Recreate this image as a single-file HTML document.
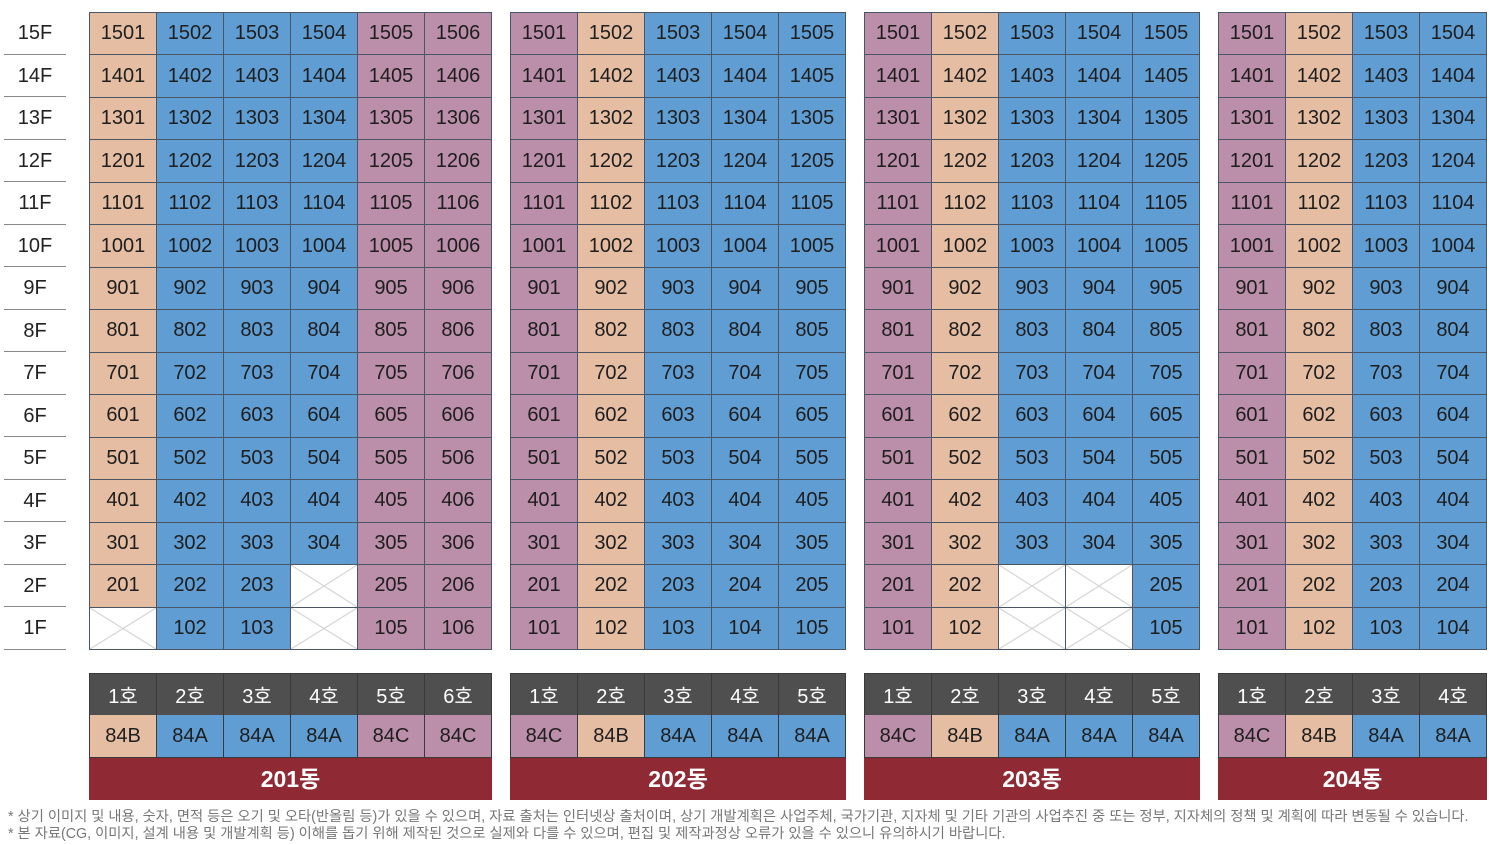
<!DOCTYPE html><html><head><meta charset="utf-8"><style>
body{margin:0;width:1489px;height:845px;background:#fff;position:relative;overflow:hidden;font-family:"Liberation Sans","Noto Sans CJK KR",sans-serif;}
.fl{position:absolute;left:4px;width:62px;height:42.5px;line-height:42px;text-align:center;font-size:20px;color:#222;border-bottom:1px solid #888;box-sizing:border-box}
.g{position:absolute;top:12px;display:grid;grid-auto-rows:1fr;background:#4a5565;gap:1px;border:1px solid #4a5565;box-sizing:border-box;height:638px}
.g i,.h i,.t i{font-style:normal;display:flex;align-items:center;justify-content:center;font-size:20px;color:#1e1e1e}
.p{background:#e5bda2}.b{background:#5f9dd3}.u{background:#bb8ea9}
.g i.x{background-color:#fff;background-image:linear-gradient(to top right,transparent calc(50% - 1px),#ccc 50%,transparent calc(50% + 1px)),linear-gradient(to bottom right,transparent calc(50% - 1px),#ccc 50%,transparent calc(50% + 1px))}
.h,.t{position:absolute;display:grid;gap:1px;background:#3a3a3a;border:1px solid #3a3a3a;box-sizing:border-box;height:43px}
.h{top:673px}.h i{background:#4f4f4f;color:#fff}
.t{top:715px;border-top:none;height:43px}
.n{position:absolute;top:758px;height:42px;background:#8f2a35;color:#fff;font-weight:bold;font-size:23px;text-align:center;line-height:42px}
.fn{position:absolute;left:8px;font-size:14.3px;color:#777;white-space:nowrap}
</style></head><body>
<div class="fl" style="top:12px">15F</div><div class="fl" style="top:54.5px">14F</div><div class="fl" style="top:97px">13F</div><div class="fl" style="top:139.5px">12F</div><div class="fl" style="top:182px">11F</div><div class="fl" style="top:224.5px">10F</div><div class="fl" style="top:267px">9F</div><div class="fl" style="top:309.5px">8F</div><div class="fl" style="top:352px">7F</div><div class="fl" style="top:394.5px">6F</div><div class="fl" style="top:437px">5F</div><div class="fl" style="top:479.5px">4F</div><div class="fl" style="top:522px">3F</div><div class="fl" style="top:564.5px">2F</div><div class="fl" style="top:607px">1F</div>

<div class="g" style="left:89px;width:403px;grid-template-columns:repeat(6,1fr)">
<i class=p>1501</i><i class=b>1502</i><i class=b>1503</i><i class=b>1504</i><i class=u>1505</i><i class=u>1506</i>
<i class=p>1401</i><i class=b>1402</i><i class=b>1403</i><i class=b>1404</i><i class=u>1405</i><i class=u>1406</i>
<i class=p>1301</i><i class=b>1302</i><i class=b>1303</i><i class=b>1304</i><i class=u>1305</i><i class=u>1306</i>
<i class=p>1201</i><i class=b>1202</i><i class=b>1203</i><i class=b>1204</i><i class=u>1205</i><i class=u>1206</i>
<i class=p>1101</i><i class=b>1102</i><i class=b>1103</i><i class=b>1104</i><i class=u>1105</i><i class=u>1106</i>
<i class=p>1001</i><i class=b>1002</i><i class=b>1003</i><i class=b>1004</i><i class=u>1005</i><i class=u>1006</i>
<i class=p>901</i><i class=b>902</i><i class=b>903</i><i class=b>904</i><i class=u>905</i><i class=u>906</i>
<i class=p>801</i><i class=b>802</i><i class=b>803</i><i class=b>804</i><i class=u>805</i><i class=u>806</i>
<i class=p>701</i><i class=b>702</i><i class=b>703</i><i class=b>704</i><i class=u>705</i><i class=u>706</i>
<i class=p>601</i><i class=b>602</i><i class=b>603</i><i class=b>604</i><i class=u>605</i><i class=u>606</i>
<i class=p>501</i><i class=b>502</i><i class=b>503</i><i class=b>504</i><i class=u>505</i><i class=u>506</i>
<i class=p>401</i><i class=b>402</i><i class=b>403</i><i class=b>404</i><i class=u>405</i><i class=u>406</i>
<i class=p>301</i><i class=b>302</i><i class=b>303</i><i class=b>304</i><i class=u>305</i><i class=u>306</i>
<i class=p>201</i><i class=b>202</i><i class=b>203</i><i class=x></i><i class=u>205</i><i class=u>206</i>
<i class=x></i><i class=b>102</i><i class=b>103</i><i class=x></i><i class=u>105</i><i class=u>106</i>
</div>

<div class="g" style="left:510px;width:336px;grid-template-columns:repeat(5,1fr)">
<i class=u>1501</i><i class=p>1502</i><i class=b>1503</i><i class=b>1504</i><i class=b>1505</i>
<i class=u>1401</i><i class=p>1402</i><i class=b>1403</i><i class=b>1404</i><i class=b>1405</i>
<i class=u>1301</i><i class=p>1302</i><i class=b>1303</i><i class=b>1304</i><i class=b>1305</i>
<i class=u>1201</i><i class=p>1202</i><i class=b>1203</i><i class=b>1204</i><i class=b>1205</i>
<i class=u>1101</i><i class=p>1102</i><i class=b>1103</i><i class=b>1104</i><i class=b>1105</i>
<i class=u>1001</i><i class=p>1002</i><i class=b>1003</i><i class=b>1004</i><i class=b>1005</i>
<i class=u>901</i><i class=p>902</i><i class=b>903</i><i class=b>904</i><i class=b>905</i>
<i class=u>801</i><i class=p>802</i><i class=b>803</i><i class=b>804</i><i class=b>805</i>
<i class=u>701</i><i class=p>702</i><i class=b>703</i><i class=b>704</i><i class=b>705</i>
<i class=u>601</i><i class=p>602</i><i class=b>603</i><i class=b>604</i><i class=b>605</i>
<i class=u>501</i><i class=p>502</i><i class=b>503</i><i class=b>504</i><i class=b>505</i>
<i class=u>401</i><i class=p>402</i><i class=b>403</i><i class=b>404</i><i class=b>405</i>
<i class=u>301</i><i class=p>302</i><i class=b>303</i><i class=b>304</i><i class=b>305</i>
<i class=u>201</i><i class=p>202</i><i class=b>203</i><i class=b>204</i><i class=b>205</i>
<i class=u>101</i><i class=p>102</i><i class=b>103</i><i class=b>104</i><i class=b>105</i>
</div>

<div class="g" style="left:864px;width:336px;grid-template-columns:repeat(5,1fr)">
<i class=u>1501</i><i class=p>1502</i><i class=b>1503</i><i class=b>1504</i><i class=b>1505</i>
<i class=u>1401</i><i class=p>1402</i><i class=b>1403</i><i class=b>1404</i><i class=b>1405</i>
<i class=u>1301</i><i class=p>1302</i><i class=b>1303</i><i class=b>1304</i><i class=b>1305</i>
<i class=u>1201</i><i class=p>1202</i><i class=b>1203</i><i class=b>1204</i><i class=b>1205</i>
<i class=u>1101</i><i class=p>1102</i><i class=b>1103</i><i class=b>1104</i><i class=b>1105</i>
<i class=u>1001</i><i class=p>1002</i><i class=b>1003</i><i class=b>1004</i><i class=b>1005</i>
<i class=u>901</i><i class=p>902</i><i class=b>903</i><i class=b>904</i><i class=b>905</i>
<i class=u>801</i><i class=p>802</i><i class=b>803</i><i class=b>804</i><i class=b>805</i>
<i class=u>701</i><i class=p>702</i><i class=b>703</i><i class=b>704</i><i class=b>705</i>
<i class=u>601</i><i class=p>602</i><i class=b>603</i><i class=b>604</i><i class=b>605</i>
<i class=u>501</i><i class=p>502</i><i class=b>503</i><i class=b>504</i><i class=b>505</i>
<i class=u>401</i><i class=p>402</i><i class=b>403</i><i class=b>404</i><i class=b>405</i>
<i class=u>301</i><i class=p>302</i><i class=b>303</i><i class=b>304</i><i class=b>305</i>
<i class=u>201</i><i class=p>202</i><i class=x></i><i class=x></i><i class=b>205</i>
<i class=u>101</i><i class=p>102</i><i class=x></i><i class=x></i><i class=b>105</i>
</div>

<div class="g" style="left:1218px;width:269px;grid-template-columns:repeat(4,1fr)">
<i class=u>1501</i><i class=p>1502</i><i class=b>1503</i><i class=b>1504</i>
<i class=u>1401</i><i class=p>1402</i><i class=b>1403</i><i class=b>1404</i>
<i class=u>1301</i><i class=p>1302</i><i class=b>1303</i><i class=b>1304</i>
<i class=u>1201</i><i class=p>1202</i><i class=b>1203</i><i class=b>1204</i>
<i class=u>1101</i><i class=p>1102</i><i class=b>1103</i><i class=b>1104</i>
<i class=u>1001</i><i class=p>1002</i><i class=b>1003</i><i class=b>1004</i>
<i class=u>901</i><i class=p>902</i><i class=b>903</i><i class=b>904</i>
<i class=u>801</i><i class=p>802</i><i class=b>803</i><i class=b>804</i>
<i class=u>701</i><i class=p>702</i><i class=b>703</i><i class=b>704</i>
<i class=u>601</i><i class=p>602</i><i class=b>603</i><i class=b>604</i>
<i class=u>501</i><i class=p>502</i><i class=b>503</i><i class=b>504</i>
<i class=u>401</i><i class=p>402</i><i class=b>403</i><i class=b>404</i>
<i class=u>301</i><i class=p>302</i><i class=b>303</i><i class=b>304</i>
<i class=u>201</i><i class=p>202</i><i class=b>203</i><i class=b>204</i>
<i class=u>101</i><i class=p>102</i><i class=b>103</i><i class=b>104</i>
</div>

<div class="h" style="left:89px;width:403px;grid-template-columns:repeat(6,1fr)"><i>1호</i><i>2호</i><i>3호</i><i>4호</i><i>5호</i><i>6호</i></div>
<div class="t" style="left:89px;width:403px;grid-template-columns:repeat(6,1fr)"><i class=p>84B</i><i class=b>84A</i><i class=b>84A</i><i class=b>84A</i><i class=u>84C</i><i class=u>84C</i></div>
<div class="n" style="left:89px;width:403px">201동</div>

<div class="h" style="left:510px;width:336px;grid-template-columns:repeat(5,1fr)"><i>1호</i><i>2호</i><i>3호</i><i>4호</i><i>5호</i></div>
<div class="t" style="left:510px;width:336px;grid-template-columns:repeat(5,1fr)"><i class=u>84C</i><i class=p>84B</i><i class=b>84A</i><i class=b>84A</i><i class=b>84A</i></div>
<div class="n" style="left:510px;width:336px">202동</div>

<div class="h" style="left:864px;width:336px;grid-template-columns:repeat(5,1fr)"><i>1호</i><i>2호</i><i>3호</i><i>4호</i><i>5호</i></div>
<div class="t" style="left:864px;width:336px;grid-template-columns:repeat(5,1fr)"><i class=u>84C</i><i class=p>84B</i><i class=b>84A</i><i class=b>84A</i><i class=b>84A</i></div>
<div class="n" style="left:864px;width:336px">203동</div>

<div class="h" style="left:1218px;width:269px;grid-template-columns:repeat(4,1fr)"><i>1호</i><i>2호</i><i>3호</i><i>4호</i></div>
<div class="t" style="left:1218px;width:269px;grid-template-columns:repeat(4,1fr)"><i class=u>84C</i><i class=p>84B</i><i class=b>84A</i><i class=b>84A</i></div>
<div class="n" style="left:1218px;width:269px">204동</div>

<div class="fn" style="top:805px">* 상기 이미지 및 내용, 숫자, 면적 등은 오기 및 오타(반올림 등)가 있을 수 있으며, 자료 출처는 인터넷상 출처이며, 상기 개발계획은 사업주체, 국가기관, 지자체 및 기타 기관의 사업추진 중 또는 정부, 지자체의 정책 및 계획에 따라 변동될 수 있습니다.</div>
<div class="fn" style="top:822px">* 본 자료(CG, 이미지, 설계 내용 및 개발계획 등) 이해를 돕기 위해 제작된 것으로 실제와 다를 수 있으며, 편집 및 제작과정상 오류가 있을 수 있으니 유의하시기 바랍니다.</div>
</body></html>
